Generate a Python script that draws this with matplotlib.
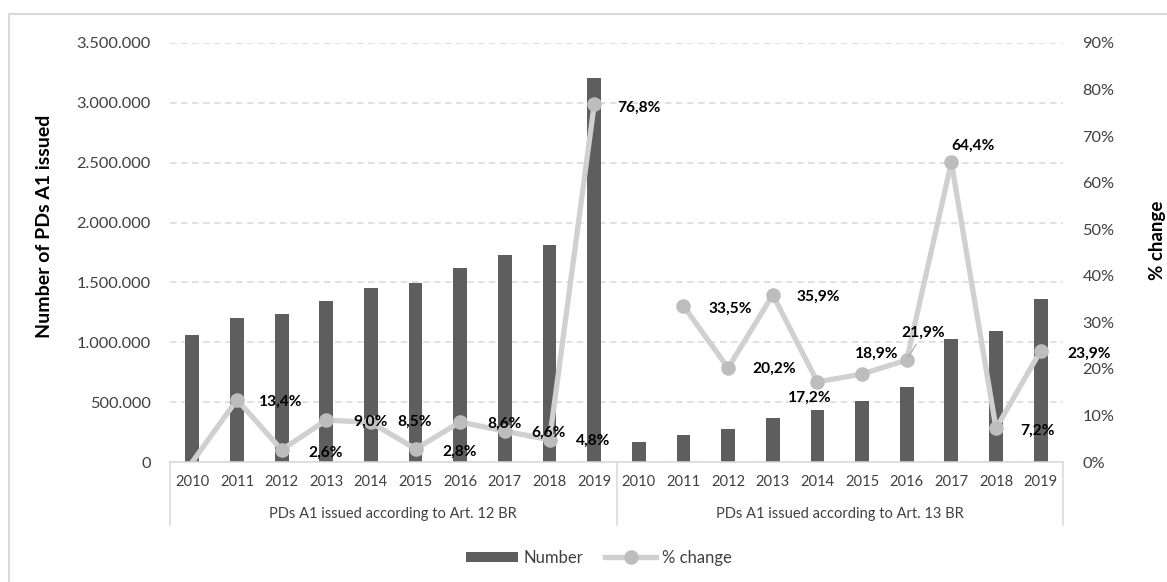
import matplotlib
matplotlib.use("Agg")
import matplotlib.pyplot as plt
import numpy as np
from matplotlib.lines import Line2D
from matplotlib.patches import Patch
from matplotlib.transforms import blended_transform_factory
from matplotlib.ticker import FuncFormatter, MultipleLocator

plt.rcParams['font.family'] = ['Lato', 'DejaVu Sans']

# ---- data -------------------------------------------------------------
years = [2010, 2011, 2012, 2013, 2014, 2015, 2016, 2017, 2018, 2019]
groups = ["PDs A1 issued according to Art. 12 BR",
          "PDs A1 issued according to Art. 13 BR"]
number_art12 = [1058000, 1200000, 1234000, 1342000, 1453000,
                1495000, 1623000, 1729000, 1812000, 3205000]
number_art13 = [170000, 225000, 273000, 367000, 434000,
                512000, 624000, 1027000, 1098000, 1361000]
pct_art12 = [0.0, 13.4, 2.6, 9.0, 8.5, 2.8, 8.6, 6.6, 4.8, 76.8]
pct_art13 = [np.nan, 33.5, 20.2, 35.9, 17.2, 18.9, 21.9, 64.4, 7.2, 23.9]

# label offsets (pixels) for the percentage annotations
off_art12 = [None, (44, -2), (44, -3), (44, -2), (44, 1), (44, -3),
             (44, -2), (44, -2), (44, -1), (45, -3)]
off_art13 = [None, (47, -3), (46, -1), (45, -2), (-8, -16), (15, 20),
             (16, 27), (22, 16), (41, -2), (48, -3)]

# ---- figure -----------------------------------------------------------
W, H = 1167, 582
fig = plt.figure(figsize=(W / 100, H / 100), dpi=100)
L, R, T, B = 170, 1063, 43, 462
ax = fig.add_axes([L / W, 1 - B / H, (R - L) / W, (B - T) / H])

n = len(years)
x = np.arange(2 * n)
numbers = number_art12 + number_art13
pct = pct_art12 + pct_art13

GRID = '#d9d9d9'
TXT = '#404040'

ax.bar(x, numbers, width=0.31, color='#5e5e5e', zorder=2)
ax.set_xlim(-0.5, 2 * n - 0.5)
ax.set_ylim(0, 3500000)
ax.yaxis.set_major_locator(MultipleLocator(500000))
ax.yaxis.set_major_formatter(FuncFormatter(
    lambda v, p: f"{int(v):,}".replace(",", ".")))
ax.grid(axis='y', color=GRID, linestyle=(0, (4.3, 2.9)), linewidth=1.1, zorder=0)
ax.set_axisbelow(True)
for s in ('top', 'left', 'right'):
    ax.spines[s].set_visible(False)
ax.spines['bottom'].set_color(GRID)
ax.spines['bottom'].set_linewidth(1.1)
ax.tick_params(axis='y', length=0, pad=14, labelsize=11.8, labelcolor=TXT)
ax.set_xticks(x)
ax.set_xticklabels([str(y) for y in years] * 2)
ax.tick_params(axis='x', length=0, pad=9, labelsize=10.6, labelcolor=TXT)

# category table: separators and group names
bt = blended_transform_factory(ax.transData, ax.transAxes)
depth = (525 - B) / (B - T)
for xb in (-0.5, n - 0.5, 2 * n - 0.5):
    ax.add_artist(Line2D([xb, xb], [0, -depth], transform=bt, color=GRID,
                         linewidth=1.1, clip_on=False))
for gi, g in enumerate(groups):
    ax.text(gi * n + (n - 1) / 2, -(514 - B) / (B - T), g, transform=bt,
            ha='center', va='center', fontsize=10.5, color=TXT)

# percentage line on secondary axis
ax2 = ax.twinx()
ax2.set_ylim(0, 90)
ax2.yaxis.set_major_locator(MultipleLocator(10))
ax2.yaxis.set_major_formatter(FuncFormatter(lambda v, p: f"{v:.0f}%"))
for s in ('top', 'left', 'right', 'bottom'):
    ax2.spines[s].set_visible(False)
ax2.tick_params(axis='y', length=0, pad=14, labelsize=11.8, labelcolor=TXT)

LINE_C = '#d0d0d0'
MARK_C = '#bdbdbd'
for seg, start in ((pct_art12, 0), (pct_art13, n)):
    xs = x[start:start + n]
    ax2.plot(xs, seg, color=LINE_C, linewidth=3.8, solid_joinstyle='round',
             solid_capstyle='round', zorder=3)
    mask = [not np.isnan(v) and v > 0 for v in seg]
    ax2.plot(xs[mask], np.array(seg)[mask], linestyle='none', marker='o',
             markersize=10.5, markerfacecolor=MARK_C, markeredgewidth=0, zorder=4)

for seg, offs, start in ((pct_art12, off_art12, 0), (pct_art13, off_art13, n)):
    for i, (v, o) in enumerate(zip(seg, offs)):
        if o is None or np.isnan(v):
            continue
        label = f"{v:.1f}%".replace(".", ",")
        kw = {}
        if start == n and i == 6:
            kw['arrowprops'] = dict(arrowstyle='-', color='#a6a6a6', lw=0.8,
                                    shrinkA=1, shrinkB=3)
        ax2.annotate(label, (start + i, v), xytext=o, textcoords='offset pixels',
                     ha='center', va='center', fontsize=11.2, fontweight='bold',
                     color='black', zorder=5, **kw)

# axis titles
fig.text(45 / W, 1 - 226 / H, "Number of PDs A1 issued", rotation=90,
         ha='center', va='center', fontsize=14, fontweight='bold')
fig.text(1157 / W, 1 - 240 / H, "% change", rotation=90,
         ha='center', va='center', fontsize=13.5, fontweight='bold')

# legend
handles = [Patch(facecolor='#5e5e5e', edgecolor='none'),
           Line2D([0], [0], color=LINE_C, linewidth=3.8, marker='o',
                  markersize=10.5, markerfacecolor=MARK_C, markeredgewidth=0)]
fig.legend(handles, ["Number", "% change"], loc='center',
           bbox_to_anchor=(599 / W, 1 - 558 / H), ncol=2, frameon=False,
           fontsize=12, handlelength=3.1, handleheight=0.6, handletextpad=0.35,
           columnspacing=1.3, labelcolor=TXT)

# outer frame (top and left edges)
fig.add_artist(Line2D([8.5 / W, 1.01], [1 - 13.5 / H] * 2, transform=fig.transFigure,
                      color=GRID, linewidth=1.5))
fig.add_artist(Line2D([8.5 / W] * 2, [-0.01, 1 - 13.5 / H], transform=fig.transFigure,
                      color=GRID, linewidth=1.5))

fig.savefig("out.png", dpi=100, facecolor='white')
